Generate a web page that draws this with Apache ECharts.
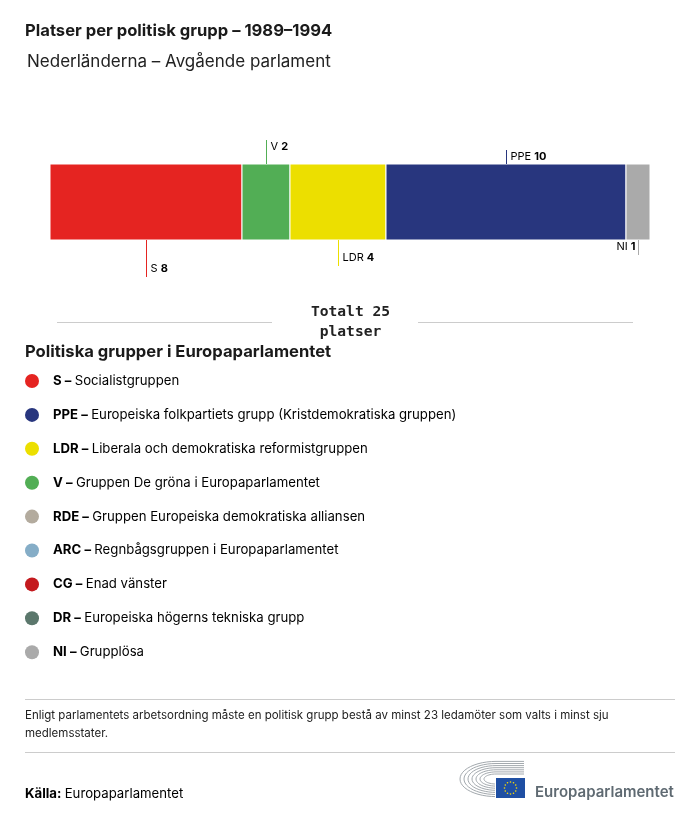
<!DOCTYPE html>
<html><head><meta charset="utf-8">
<script src="https://cdn.jsdelivr.net/npm/echarts@6/dist/echarts.min.js"></script>
<style>html,body{margin:0;padding:0;background:#fff}#c{width:700px;height:820px}</style>
</head><body><div id="c"></div>
<script>
// ---- data ----
const groups = ['S', 'V', 'LDR', 'PPE', 'NI'];
const seats = [8, 2, 4, 10, 1];
const groupColors = ['#e52421', '#52ae55', '#ecdf00', '#28367e', '#aaaaaa'];
const totalSeats = 25;
const legendCodes = ['S', 'PPE', 'LDR', 'V', 'RDE', 'ARC', 'CG', 'DR', 'NI'];
const legendNames = [
  'Socialistgruppen',
  'Europeiska folkpartiets grupp (Kristdemokratiska gruppen)',
  'Liberala och demokratiska reformistgruppen',
  'Gruppen De gröna i Europaparlamentet',
  'Gruppen Europeiska demokratiska alliansen',
  'Regnbågsgruppen i Europaparlamentet',
  'Enad vänster',
  'Europeiska högerns tekniska grupp',
  'Grupplösa'
];
const legendColors = ['#e52421', '#28367e', '#ecdf00', '#52ae55', '#b3ab9e', '#85adc7', '#c41a1e', '#5b776c', '#aaaaaa'];

// ---- label style (not data) ----
const labelSide = ['bottom', 'top', 'bottom', 'top', 'bottom'];
const leaderLen = [37, 24, 26, 14, 15];
const labelAlign = ['left', 'left', 'left', 'left', 'right'];

const FONT = 'Inter, "Noto Sans", sans-serif';

// build segments
let acc = 0;
const segData = seats.map((v, i) => { const s = acc; acc += v; return [s, acc, i, v]; });

const chart = echarts.init(document.getElementById('c'), null, { renderer: 'canvas' });

function renderItem(params, api) {
  const s = api.value(0), e = api.value(1), i = api.value(2), v = api.value(3);
  const p0 = api.coord([s, 0]), p1 = api.coord([e, 0]);
  const h = api.size([0, 1])[1];
  const top = p0[1] - h / 2, bot = p0[1] + h / 2;
  const cx = Math.round((p0[0] + p1[0]) / 2) + 0.5;
  const col = groupColors[i];
  const children = [{
    type: 'rect',
    shape: { x: p0[0], y: top, width: p1[0] - p0[0], height: h },
    style: { fill: col, stroke: '#ffffff', lineWidth: 1 }
  }];
  let y1, y2, ty;
  if (labelSide[i] === 'top') {
    y1 = top - leaderLen[i]; y2 = top; ty = y1 + 6.5;
  } else {
    y1 = bot; y2 = bot + leaderLen[i]; ty = y2 - 8;
  }
  children.push({ type: 'line', shape: { x1: cx, y1: y1, x2: cx, y2: y2 }, style: { stroke: col, lineWidth: 1 } });
  const right = labelAlign[i] === 'right';
  children.push({
    type: 'text',
    x: right ? cx - 3 : cx + 4,
    y: ty,
    style: {
      text: '{n|' + groups[i] + ' }{b|' + v + '}',
      align: right ? 'right' : 'left',
      verticalAlign: 'middle',
      rich: {
        n: { fontFamily: FONT, fontSize: 11, color: '#222' },
        b: { fontFamily: FONT, fontSize: 11, fontWeight: 'bold', color: '#222' }
      }
    }
  });
  return { type: 'group', children: children };
}

const graphics = [];
// title
graphics.push({ type: 'text', x: 25, y: 31, style: { text: 'Platser per politisk grupp – 1989–1994', font: 'bold 16.6px ' + FONT, fill: '#1a1a1a', verticalAlign: 'middle' } });
graphics.push({ type: 'text', x: 27, y: 62, style: { text: 'Nederländerna – Avgående parlament', font: '17px ' + FONT, fill: '#222', verticalAlign: 'middle' } });
// total
graphics.push({ type: 'line', shape: { x1: 57, y1: 322.5, x2: 272, y2: 322.5 }, style: { stroke: '#cccccc', lineWidth: 1 } });
graphics.push({ type: 'line', shape: { x1: 418, y1: 322.5, x2: 633, y2: 322.5 }, style: { stroke: '#cccccc', lineWidth: 1 } });
graphics.push({ type: 'text', x: 350.5, y: 312, style: { text: 'Totalt ' + totalSeats, font: 'bold 14.6px "DejaVu Sans Mono", monospace', fill: '#222', align: 'center', verticalAlign: 'middle' } });
graphics.push({ type: 'text', x: 350.5, y: 332, style: { text: 'platser', font: 'bold 14.6px "DejaVu Sans Mono", monospace', fill: '#222', align: 'center', verticalAlign: 'middle' } });
// legend
graphics.push({ type: 'text', x: 25, y: 352, style: { text: 'Politiska grupper i Europaparlamentet', font: 'bold 16.6px ' + FONT, fill: '#1a1a1a', verticalAlign: 'middle' } });
legendCodes.forEach((c, i) => {
  const y = 381 + i * 33.9;
  graphics.push({ type: 'circle', shape: { cx: 32, cy: y, r: 7 }, style: { fill: legendColors[i] } });
  graphics.push({
    type: 'text', x: 53, y: y,
    style: {
      text: '{b|' + c + ' –} {n|' + legendNames[i] + '}',
      verticalAlign: 'middle',
      rich: {
        b: { fontFamily: FONT, fontSize: 13.2, fontWeight: 'bold', color: '#1a1a1a' },
        n: { fontFamily: FONT, fontSize: 13.2, color: '#222' }
      }
    }
  });
});
// footer
graphics.push({ type: 'line', shape: { x1: 25, y1: 699.5, x2: 675, y2: 699.5 }, style: { stroke: '#cccccc', lineWidth: 1 } });
graphics.push({ type: 'text', x: 25, y: 716, style: { text: 'Enligt parlamentets arbetsordning måste en politisk grupp bestå av minst 23 ledamöter som valts i minst sju', font: '11.5px ' + FONT, fill: '#222', verticalAlign: 'middle' } });
graphics.push({ type: 'text', x: 25, y: 734, style: { text: 'medlemsstater.', font: '11.5px ' + FONT, fill: '#222', verticalAlign: 'middle' } });
graphics.push({ type: 'line', shape: { x1: 25, y1: 752.5, x2: 675, y2: 752.5 }, style: { stroke: '#cccccc', lineWidth: 1 } });
graphics.push({
  type: 'text', x: 25, y: 794,
  style: {
    text: '{b|Källa:} {n|Europaparlamentet}', verticalAlign: 'middle',
    rich: { b: { fontFamily: FONT, fontSize: 13.2, fontWeight: 'bold', color: '#1a1a1a' }, n: { fontFamily: FONT, fontSize: 13.2, color: '#222' } }
  }
});
// logo: hemicycle (elliptical arcs)
const hcx = 496, hcy = 779;
for (let k = 0; k < 7; k++) {
  const rx = 12 + k * 4, ry = 5 + k * 2.1;
  const pts = [[524, hcy - ry]];
  for (let t = 0; t <= 24; t++) {
    const a = -Math.PI / 2 - t * Math.PI / 24;
    pts.push([hcx + rx * Math.cos(a), hcy + ry * Math.sin(a)]);
  }
  pts.push([hcx + 6, hcy + ry]);
  graphics.push({ type: 'polyline', shape: { points: pts }, style: { stroke: '#a3a9ae', lineWidth: 1, fill: null } });
}
graphics.push({ type: 'rect', shape: { x: 495, y: 777, width: 31, height: 22 }, style: { fill: '#ffffff' } });
graphics.push({ type: 'rect', shape: { x: 496, y: 778, width: 29, height: 20 }, style: { fill: '#1f4fa3' } });
for (let k = 0; k < 12; k++) {
  const a = k * Math.PI / 6;
  graphics.push({ type: 'circle', shape: { cx: 510.5 + 6 * Math.cos(a), cy: 788 + 6 * Math.sin(a), r: 0.8 }, style: { fill: '#ffdd00' } });
}
graphics.push({ type: 'text', x: 535, y: 792, style: { text: 'Europaparlamentet', font: '600 15px ' + FONT, fill: '#5f6a72', verticalAlign: 'middle' } });

chart.setOption({
  animation: false,
  backgroundColor: '#ffffff',
  grid: { left: 50, right: 50, top: 164, height: 76 },
  xAxis: { type: 'value', min: 0, max: totalSeats, show: false },
  yAxis: { type: 'category', data: ['Platser'], show: false },
  series: [{
    type: 'custom',
    renderItem: renderItem,
    encode: { x: [0, 1], y: 2 },
    data: segData.map(d => ({ value: d }))
  }],
  graphic: graphics
});
</script>
</body></html>
